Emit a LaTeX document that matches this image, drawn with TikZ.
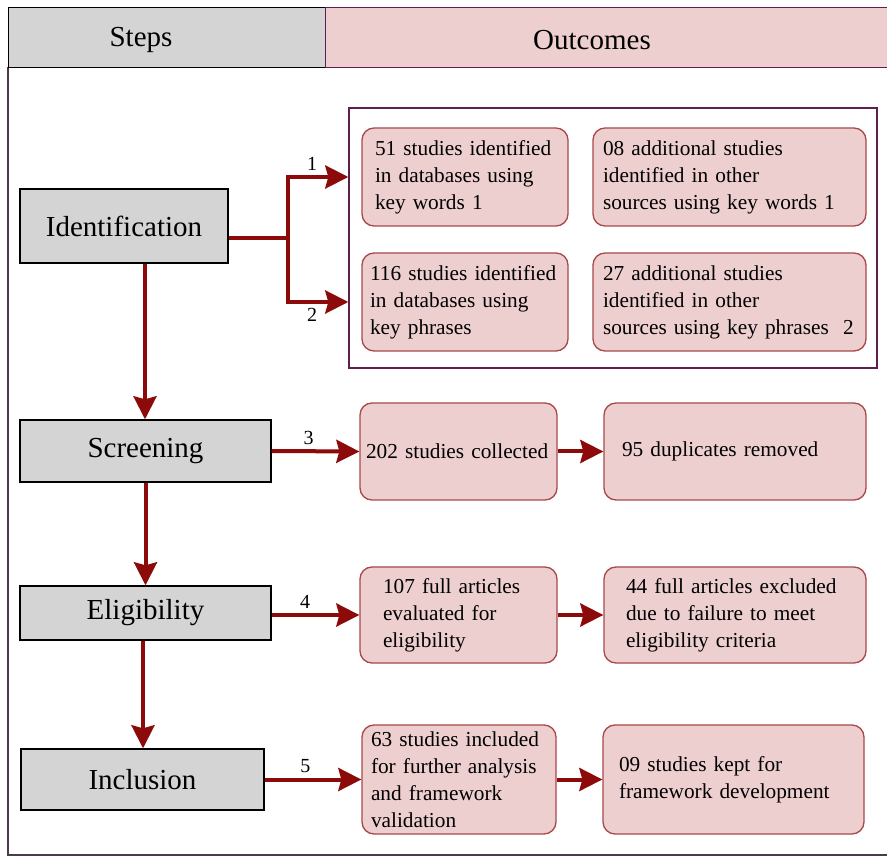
\documentclass[tikz,border=0pt]{standalone}
\usepackage{fontspec}
\setmainfont{Liberation Serif}
\usetikzlibrary{arrows.meta}

\definecolor{flgray}{HTML}{D4D4D4}
\definecolor{flpink}{HTML}{EECFCF}
\definecolor{flpinkline}{HTML}{A8484A}
\definecolor{flred}{HTML}{8C0A0A}
\definecolor{flplum}{HTML}{5C1F4F}
\definecolor{flframe}{HTML}{4A3A4A}

\tikzset{
  flhead/.style={draw, thick, minimum height=60pt, inner sep=0pt},
  fltitle/.style={font=\fontsize{29}{32}\selectfont},
  flstep/.style={draw=black, line width=1.4pt, fill=flgray, inner sep=0pt, font=\fontsize{29}{32}\selectfont},
  flout/.style={draw=flpinkline, line width=1.3pt, fill=flpink, rounded corners=12pt, align=left, inner ysep=2pt,
    font=\fontsize{21.3}{27}\selectfont, execute at begin node={\hyphenpenalty=10000\relax}},
  flarr/.style={-{Stealth[length=23pt, width=23pt, inset=3pt]}, line width=4pt, flred},
  flline/.style={line width=4pt, flred},
  fllab/.style={text=black, font=\fontsize{20}{22}\selectfont}
}

\begin{document}
\begin{tikzpicture}[x=1pt,y=-1pt]
        \useasboundingbox (0,0) rectangle (887,858);
        \fill[white] (0,0) rectangle (887,858);

        % frame and header
        \draw[flframe, line width=1.4pt] (8,67) -- (8,855) -- (887,855);
        \node[flhead, fill=flgray, draw=black, minimum width=317pt] (hsteps) at (166.5,37) {};
        \node[flhead, fill=flpink, draw=flplum, minimum width=562pt] (houts) at (606,37) {};
        \node[fltitle] (hstepstxt) at (141,40) {Steps};
        \node[fltitle] (houtstxt) at (592,40) {Outcomes};

        % steps
        \node[flstep, minimum width=208pt, minimum height=74pt] (ident) at (124,226) {Identification};
        \node[flstep, minimum width=251pt, minimum height=62pt] (screen) at (145.5,451) {Screening};
        \node[flstep, minimum width=251pt, minimum height=54pt] (elig) at (145.5,613) {Eligibility};
        \node[flstep, minimum width=243pt, minimum height=61pt] (incl) at (142.5,779.5) {Inclusion};

        % identification outcomes
        \node[draw=flplum, line width=1.4pt, minimum width=528pt, minimum height=260pt] (idgroup) at (613,238) {};
        \node[flout, text width=180pt, inner xsep=13pt, minimum height=98pt] (b51) at (465,177)
            {51 studies identified\\in databases using\\key words 1};
        \node[flout, text width=253pt, inner xsep=10pt, minimum height=98pt] (b08) at (729.5,177)
            {08 additional studies\\identified in other\\sources using key words 1};
        \node[flout, text width=190pt, inner xsep=8pt, minimum height=98pt] (b116) at (465,302)
            {116 studies identified\\in databases using\\key phrases};
        \node[flout, text width=253pt, inner xsep=10pt, minimum height=98pt] (b27) at (729.5,302)
            {27 additional studies\\identified in other\\sources using key phrases\ \ 2};

        % later outcomes
        \node[flout, text width=185pt, inner xsep=6pt, minimum height=97pt] (b202) at (458.5,451.5) {202 studies collected};
        \node[flout, text width=226pt, inner xsep=18pt, minimum height=97pt] (b95) at (735,451.5) {95 duplicates removed};
        \node[flout, text width=151pt, inner xsep=23pt, minimum height=96pt] (b107) at (458.5,615)
            {107 full articles\\evaluated for\\eligibility};
        \node[flout, text width=218pt, inner xsep=22pt, minimum height=96pt] (b44) at (735,615)
            {44 full articles excluded\\due to failure to meet\\eligibility criteria};
        \node[flout, text width=176pt, inner xsep=9pt, minimum height=109pt] (b63) at (459,779.5)
            {63 studies included\\for further analysis\\and framework\\validation};
        \node[flout, text width=229pt, inner xsep=16pt, minimum height=109pt] (b09) at (733.5,779.5)
            {09 studies kept for\\framework development};

        % connectors
        \coordinate (split) at (288,238);
        \draw[flline] (ident.east |- split) -- (split);
        \draw[flarr] (split) |- (idgroup.west |- b51.west) node[fllab, pos=0.7, above=1pt] (l1) {1};
        \draw[flarr] (split) |- (idgroup.west |- b116.west) node[fllab, pos=0.7, below=1pt] (l2) {2};
        \draw[flarr] (screen.east) -- (b202.west) node[fllab, pos=0.42, above=1pt] (l3) {3};
        \draw[flarr] (b202.east) -- (b95.west);
        \draw[flarr] (elig.east |- b107.west) -- (b107.west) node[fllab, pos=0.38, above=1pt] (l4) {4};
        \draw[flarr] (b107.east) -- (b44.west);
        \draw[flarr] (incl.east) -- (b63.west) node[fllab, pos=0.42, above=1pt] (l5) {5};
        \draw[flarr] (b63.east) -- (b09.west);

        \draw[flarr] ([xshift=21pt]ident.south) -- ([xshift=21pt]ident.south |- screen.north);
        \draw[flarr] (screen.south) -- (elig.north);
        \draw[flarr] ([xshift=-2.5pt]elig.south) -- ([xshift=-2.5pt]elig.south |- incl.north);
    \end{tikzpicture}
\end{document}
